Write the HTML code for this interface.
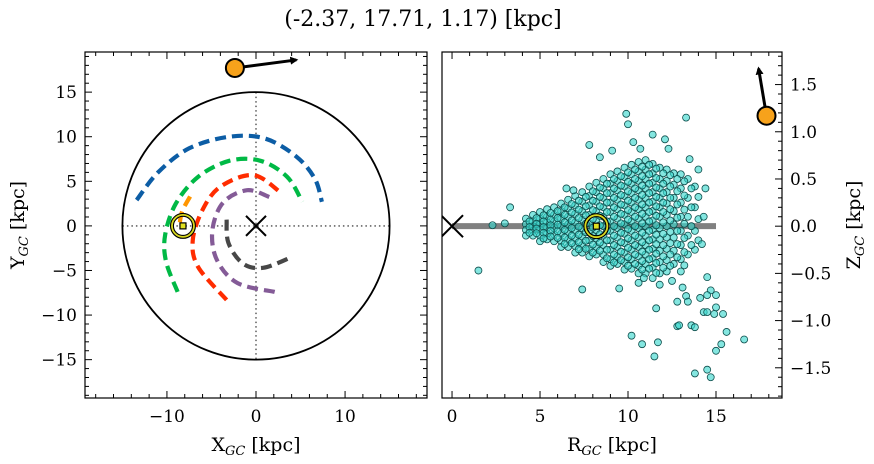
<!DOCTYPE html>
<html><head><meta charset="utf-8"><style>
html,body{margin:0;padding:0;background:#fff;width:874px;height:464px;overflow:hidden}
svg text{font-family:"DejaVu Serif","Liberation Serif",serif;fill:#000}
</style></head><body>
<svg id="chart" width="874" height="464" viewBox="0 0 874 464" xmlns="http://www.w3.org/2000/svg">
<text x="423" y="26" font-size="22" text-anchor="middle">(-2.37, 17.71, 1.17) [kpc]</text>
<g id="left"></g>
<g id="right"></g>
</svg>
<script>
// ---- data ----
const sunXY=[-8.2,0];
const targetXY=[-2.37,17.71];
const targetVelXY=[6.9,0.9];
const targetRZ=[17.87,1.17];
const targetVelRZ=[-0.45,0.5];
const armBlue=[[-13.4,2.9],[-11,6],[-7.5,8.7],[-3,10],[1,9.8],[4.5,7.8],[6.6,5.3],[7.4,2.7]];
const armGreen=[[-8.8,-7.4],[-10.1,-4],[-10.2,-1],[-9,2.5],[-6.5,5.5],[-3,7.3],[0.5,7.3],[3.5,5.5],[5.2,2.7]];
const armOrange=[[-7.4,3.3],[-8.3,1.6],[-8.6,0]];
const armRed=[[-3.3,-8.3],[-6.5,-4.6],[-7.1,-1.6],[-6,1.8],[-4,4.4],[-0.3,5.7],[2.7,3.8]];
const armPurple=[[2.1,-7.4],[-2.1,-6.4],[-4.4,-3.8],[-4.9,-0.5],[-3.7,2.6],[-1,4],[1.6,3.2]];
const armDark=[[-3.3,0.7],[-3.1,-1.9],[-1.5,-4.2],[0.8,-4.7],[4,-3.5]];
const xTicksL=[-10,0,10];
const yTicksL=[-15,-10,-5,0,5,10,15];
const xTicksR=[0,5,10,15];
const yTicksR=[-1.5,-1,-0.5,0,0.5,1,1.5];
const coreRows=[
[4.2,[0.08,0.02,-0.04,-0.1]],
[4.6,[0.12,0.05,0,-0.05,-0.1]],
[5.0,[0.15,0.08,0.02,-0.04,-0.1,-0.16]],
[5.4,[0.18,0.1,0.04,-0.02,-0.08,-0.14]],
[5.8,[0.2,0.12,0.05,-0.02,-0.09,-0.16]],
[6.2,[0.24,0.16,0.08,0,-0.08,-0.16,-0.22]],
[6.6,[0.28,0.19,0.1,0.02,-0.06,-0.14,-0.22]],
[7.0,[0.32,0.22,0.13,0.04,-0.05,-0.13,-0.21,-0.28]],
[7.4,[0.36,0.26,0.16,0.07,-0.02,-0.11,-0.2,-0.28]],
[7.8,[0.42,0.32,0.22,0.12,0.03,-0.06,-0.15,-0.24,-0.32]],
[8.2,[0.46,0.36,0.26,0.16,0.06,-0.04,-0.13,-0.22,-0.3]],
[8.6,[0.5,0.4,0.3,0.2,0.1,0,-0.1,-0.2,-0.3,-0.38]],
[9.0,[0.55,0.45,0.35,0.25,0.15,0.05,-0.05,-0.15,-0.25,-0.35,-0.42]],
[9.4,[0.58,0.48,0.38,0.28,0.18,0.08,-0.02,-0.12,-0.22,-0.32,-0.4]],
[9.8,[0.62,0.52,0.42,0.32,0.22,0.12,0.02,-0.08,-0.18,-0.28,-0.38,-0.46]],
[10.2,[0.65,0.55,0.45,0.35,0.25,0.15,0.05,-0.05,-0.15,-0.25,-0.35,-0.45]],
[10.6,[0.68,0.58,0.48,0.38,0.28,0.18,0.08,-0.02,-0.12,-0.22,-0.32,-0.42,-0.5]],
[11.0,[0.7,0.6,0.5,0.4,0.3,0.2,0.1,0,-0.1,-0.2,-0.3,-0.4,-0.5]],
[11.4,[0.66,0.56,0.46,0.36,0.26,0.16,0.06,-0.04,-0.14,-0.24,-0.34,-0.44,-0.55]],
[11.8,[0.62,0.5,0.4,0.3,0.2,0.1,-0.02,-0.14,-0.26,-0.38,-0.5]],
[12.2,[0.6,0.48,0.36,0.24,0.12,0,-0.12,-0.24,-0.36,-0.48]],
[12.6,[0.56,0.44,0.3,0.16,0.02,-0.12,-0.26,-0.4]],
[13.0,[0.55,0.4,0.25,0.1,-0.05,-0.2,-0.35,-0.48]],
[13.4,[0.5,0.3,0.1,-0.1,-0.3]],
[13.8,[0.42,0.2,-0.05,-0.25]]
];
const outliersR=[9.9,10.0,13.3,11.4,12.1,10.3,10.7,7.8,8.4,9.1,12.3,13.5,14.0,14.4,6.5,6.9,3.3,2.3,3.0,1.5,7.4,9.5,14.3,14.2,14.5,14.7,15.0,14.5,13.1,13.3,12.8,13.4,14.1,15.0,11.6,14.3,14.5,14.9,15.4,12.8,12.9,13.6,13.8,15.6,10.2,10.8,11.7,11.5,15.3,15.0,16.6,13.8,14.5,14.7,10.9,10.6,11.8,12.5];
const outliersZ=[1.19,1.08,1.15,0.97,0.92,0.89,0.82,0.86,0.73,0.8,0.82,0.71,0.6,0.4,0.4,0.38,0.2,0.01,0.03,-0.47,-0.67,-0.66,0.1,-0.19,-0.54,-0.68,-0.73,-0.73,-0.65,-0.74,-0.8,-0.8,-0.76,-0.86,-0.87,-0.91,-0.91,-0.93,-0.93,-1.06,-1.05,-1.05,-1.07,-1.12,-1.16,-1.25,-1.23,-1.38,-1.25,-1.32,-1.2,-1.56,-1.52,-1.6,-0.55,-0.6,-0.62,-0.58];

// ---- helpers ----
const NS="http://www.w3.org/2000/svg";
function mk(parent,tag,attrs){const e=document.createElementNS(NS,tag);for(const k in attrs)e.setAttribute(k,attrs[k]);parent.appendChild(e);return e;}
const L={x0:85,x1:427,y0:52,y1:398,xmin:-19.2,xmax:19.2,ymin:-19.3,ymax:19.5};
const R={x0:442,x1:782,y0:52,y1:398,xmin:-0.57,xmax:18.75,ymin:-1.82,ymax:1.845};
function sx(P,v){return P.x0+(v-P.xmin)/(P.xmax-P.xmin)*(P.x1-P.x0);}
function sy(P,v){return P.y1-(v-P.ymin)/(P.ymax-P.ymin)*(P.y1-P.y0);}
const gL=document.getElementById('left'), gR=document.getElementById('right');
const svg=document.getElementById('chart');
mk(svg,'defs',{}).innerHTML='<clipPath id="clipL"><rect x="85" y="52" width="342" height="346"/></clipPath><clipPath id="clipR"><rect x="442" y="52" width="340" height="346"/></clipPath><marker id="ah" markerWidth="8" markerHeight="8" refX="6" refY="4" orient="auto" markerUnits="userSpaceOnUse" viewBox="0 0 8 8"><path d="M0,0 L8,4 L0,8 z" fill="#000"/></marker>';

function smoothPath(P,pts){
  const p=pts.map(a=>[sx(P,a[0]),sy(P,a[1])]);
  let d='M'+p[0][0]+','+p[0][1];
  for(let i=0;i<p.length-1;i++){
    const a=p[Math.max(0,i-1)],b=p[i],c=p[i+1],e=p[Math.min(p.length-1,i+2)];
    d+=' C'+(b[0]+(c[0]-a[0])/6)+','+(b[1]+(c[1]-a[1])/6)+' '+(c[0]-(e[0]-b[0])/6)+','+(c[1]-(e[1]-b[1])/6)+' '+c[0]+','+c[1];
  }
  return d;
}
function ticks(g,P,major,minorStep,side,labels,fmt){
  const lo=side==='x'?P.xmin:P.ymin, hi=side==='x'?P.xmax:P.ymax;
  const start=Math.ceil(lo/minorStep-1e-9);
  for(let i=start;i*minorStep<=hi+1e-9;i++){
    const v=+(i*minorStep).toFixed(4);
    const isMaj=major.some(m=>Math.abs(m-v)<1e-6);
    const len=isMaj?7:4;
    if(side==='x'){const x=sx(P,v);
      const t1=mk(g,'line',{x1:x,x2:x,y1:P.y1,y2:P.y1-len,stroke:'#000','stroke-width':1});
      
      mk(g,'line',{x1:x,x2:x,y1:P.y0,y2:P.y0+len,stroke:'#000','stroke-width':1});
    } else {const y=sy(P,v);
      if(labels!=='right'){mk(g,'line',{x1:P.x0,x2:P.x0+len,y1:y,y2:y,stroke:'#000','stroke-width':1});}
      const t2=mk(g,'line',{x1:P.x1,x2:P.x1-len,y1:y,y2:y,stroke:'#000','stroke-width':1});
      
    }
  }
  major.forEach(v=>{
    let t;
    const s=fmt(v);
    if(side==='x') t=mk(g,'text',{x:sx(P,v),y:P.y1+24,'font-size':17,'text-anchor':'middle'});
    else if(labels==='right') t=mk(g,'text',{x:P.x1+8,y:sy(P,v)+6,'font-size':17,'text-anchor':'start'});
    else t=mk(g,'text',{x:P.x0-8,y:sy(P,v)+6,'font-size':17,'text-anchor':'end'});
    t.textContent=s;
    
    
  });
}
const minus=v=>(v<0?'\u2212':'')+Math.abs(v);
const minus1=v=>(v<0?'\u2212':'')+Math.abs(v).toFixed(1);

// ---- left panel ----
const cl=mk(gL,'g',{'clip-path':'url(#clipL)'});
mk(cl,'line',{x1:sx(L,0),x2:sx(L,0),y1:sy(L,15),y2:sy(L,-15),stroke:'#666','stroke-width':1.6,'stroke-dasharray':'1.5,3'});
mk(cl,'line',{x1:sx(L,-15),x2:sx(L,15),y1:sy(L,0),y2:sy(L,0),stroke:'#666','stroke-width':1.6,'stroke-dasharray':'1.5,3'});
const circ=mk(cl,'ellipse',{cx:sx(L,0),cy:sy(L,0),rx:sx(L,15)-sx(L,0),ry:sy(L,0)-sy(L,15),fill:'none',stroke:'#000','stroke-width':1.8});

const arms=[[armBlue,'#0C5DA5','arm-blue'],[armGreen,'#00B945','arm-green'],[armOrange,'#FF9500','arm-orange'],[armRed,'#FF2C00','arm-red'],[armPurple,'#845B97','arm-purple'],[armDark,'#474747','arm-dark']];
arms.forEach(a=>{const p=mk(cl,'path',{d:smoothPath(L,a[0]),fill:'none',stroke:a[1],'stroke-width':4.2,'stroke-dasharray':'11,6'});
  });
function xmark(g,x,y,s){mk(g,'path',{d:`M${x-s},${y-s}L${x+s},${y+s}M${x-s},${y+s}L${x+s},${y-s}`,stroke:'#000','stroke-width':2,fill:'none'});}
xmark(cl,sx(L,0),sy(L,0),10);
function sun(g,x,y){const s=mk(g,'g',{});
  
  mk(s,'circle',{cx:x,cy:y,r:11,fill:'none',stroke:'#000','stroke-width':4});
  mk(s,'circle',{cx:x,cy:y,r:11,fill:'none',stroke:'#d8d820','stroke-width':1.8});
  mk(s,'rect',{x:x-3,y:y-3,width:6,height:6,fill:'#e0e020',stroke:'#000','stroke-width':1.2});}
sun(cl,sx(L,sunXY[0]),sy(L,sunXY[1]));
mk(gL,'rect',{x:L.x0,y:L.y0,width:L.x1-L.x0,height:L.y1-L.y0,fill:'none',stroke:'#000','stroke-width':1.2});
ticks(gL,L,xTicksL,2,'x','bottom',minus);
ticks(gL,L,yTicksL,1,'y','left',minus);
const ta=mk(gL,'line',{x1:sx(L,targetXY[0]),y1:sy(L,targetXY[1]),x2:sx(L,targetXY[0]+targetVelXY[0]),y2:sy(L,targetXY[1]+targetVelXY[1]),stroke:'#000','stroke-width':3,'marker-end':'url(#ah)'});

const tc=mk(gL,'circle',{cx:sx(L,targetXY[0]),cy:sy(L,targetXY[1]),r:9,fill:'#F7A21B',stroke:'#000','stroke-width':2});

let t=mk(gL,'text',{x:256,y:451,'font-size':19,'text-anchor':'middle'});
t.innerHTML='X<tspan font-size="13" dy="4" font-style="italic">GC</tspan><tspan dy="-4"> [kpc]</tspan>';

t=mk(gL,'text',{x:0,y:0,'font-size':19,'text-anchor':'middle',transform:'translate(24,225) rotate(-90)'});
t.innerHTML='Y<tspan font-size="13" dy="4" font-style="italic">GC</tspan><tspan dy="-4"> [kpc]</tspan>';


// ---- right panel ----
const cr=mk(gR,'g',{'clip-path':'url(#clipR)'});
const gl=mk(cr,'line',{x1:sx(R,0),x2:sx(R,15),y1:sy(R,0),y2:sy(R,0),stroke:'#808080','stroke-width':6});

const pts=mk(cr,'g',{});

function dot(r,z){const c=mk(pts,'circle',{cx:sx(R,r),cy:sy(R,z),r:3.5,fill:'rgba(56,215,205,0.62)',stroke:'#0d4d4b','stroke-width':0.8});
  }
coreRows.forEach(row=>row[1].forEach(z=>dot(row[0],z)));
coreRows.forEach(row=>row[1].forEach((z,i)=>{if(i<row[1].length-1)dot(row[0]+0.2,(z+row[1][i+1])/2);}));
outliersR.forEach((r,i)=>dot(r,outliersZ[i]));
xmark(cr,sx(R,0),sy(R,0),11);
sun(cr,sx(R,8.2),sy(R,0));
mk(gR,'rect',{x:R.x0,y:R.y0,width:R.x1-R.x0,height:R.y1-R.y0,fill:'none',stroke:'#000','stroke-width':1.2});
ticks(gR,R,xTicksR,1,'x','bottom',minus);
ticks(gR,R,yTicksR,0.1,'y','right',minus1);
const tb=mk(gR,'line',{x1:sx(R,targetRZ[0]),y1:sy(R,targetRZ[1]),x2:sx(R,targetRZ[0]+targetVelRZ[0]),y2:sy(R,targetRZ[1]+targetVelRZ[1]),stroke:'#000','stroke-width':3,'marker-end':'url(#ah)'});

const td=mk(gR,'circle',{cx:sx(R,targetRZ[0]),cy:sy(R,targetRZ[1]),r:9,fill:'#F7A21B',stroke:'#000','stroke-width':2});

t=mk(gR,'text',{x:612,y:451,'font-size':19,'text-anchor':'middle'});
t.innerHTML='R<tspan font-size="13" dy="4" font-style="italic">GC</tspan><tspan dy="-4"> [kpc]</tspan>';

t=mk(gR,'text',{x:0,y:0,'font-size':19,'text-anchor':'middle',transform:'translate(860,225) rotate(-90)'});
t.innerHTML='Z<tspan font-size="13" dy="4" font-style="italic">GC</tspan><tspan dy="-4"> [kpc]</tspan>';

</script>
</body></html>
